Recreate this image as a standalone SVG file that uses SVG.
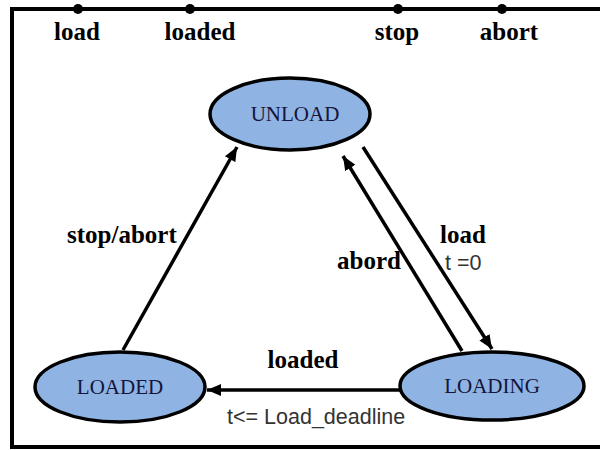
<svg xmlns="http://www.w3.org/2000/svg" width="600" height="450" viewBox="0 0 600 450">
<style>
.frame{fill:none;stroke:#000;stroke-width:4}
.state{fill:#8fb3e2;stroke:#000;stroke-width:3.5}
.sname{font-family:"Liberation Serif",serif;font-size:21px;fill:#14143c;text-anchor:middle}
.lbl{font-family:"Liberation Serif",serif;font-size:25px;font-weight:bold;fill:#000}
.guard{font-family:"Liberation Sans",sans-serif;font-size:21.5px;fill:#333}
.edge{fill:none;stroke:#000;stroke-width:3.5;marker-end:url(#arr)}
.dot{fill:#000}
</style>
<defs>
<marker id="arr" markerUnits="userSpaceOnUse" markerWidth="16" markerHeight="14" refX="14" refY="7" orient="auto">
<path d="M0,1 L14,7 L0,13 Z" fill="#000"/>
</marker>
</defs>
<rect width="600" height="450" fill="#fff"/>
<g id="frame">
<path class="frame" d="M600,9 H12 V447 H600"/>
<circle class="dot" cx="78" cy="9" r="5"/>
<circle class="dot" cx="190" cy="9" r="5"/>
<circle class="dot" cx="398" cy="9" r="5"/>
<circle class="dot" cx="502" cy="9" r="5"/>
<text class="lbl" x="77" y="40" text-anchor="middle">load</text>
<text class="lbl" x="200" y="40" text-anchor="middle">loaded</text>
<text class="lbl" x="397" y="40" text-anchor="middle">stop</text>
<text class="lbl" x="509" y="40" text-anchor="middle">abort</text>
</g>
<g id="connectors">
<line class="edge" x1="123" y1="350" x2="237" y2="147"/>
<line class="edge" x1="363" y1="147" x2="492" y2="349"/>
<line class="edge" x1="462" y1="351" x2="343" y2="156"/>
<line class="edge" x1="400" y1="390" x2="207" y2="390"/>
<text class="lbl" x="67" y="243">stop/abort</text>
<text class="lbl" x="337" y="269">abord</text>
<text class="lbl" x="440" y="243">load</text>
<text class="guard" x="445" y="270">t =0</text>
<text class="lbl" x="303" y="368" text-anchor="middle">loaded</text>
<text class="guard" x="227" y="424">t&lt;= Load_deadline</text>
</g>
<g id="UNLOAD">
<ellipse class="state" cx="290" cy="114" rx="80" ry="36"/>
<text class="sname" x="295" y="121">UNLOAD</text>
</g>
<g id="LOADED">
<ellipse class="state" cx="120" cy="387" rx="85" ry="35"/>
<text class="sname" x="120" y="394">LOADED</text>
</g>
<g id="LOADING">
<ellipse class="state" cx="492" cy="386" rx="92" ry="34"/>
<text class="sname" x="492" y="393">LOADING</text>
</g>
</svg>
